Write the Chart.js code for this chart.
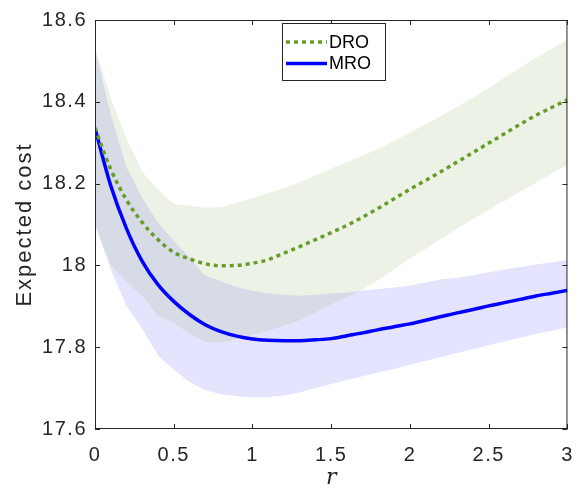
<!DOCTYPE html>
<html>
<head>
<meta charset="utf-8">
<script src="https://cdn.jsdelivr.net/npm/chart.js@4/dist/chart.umd.min.js"></script>
<style>
  html, body { margin: 0; padding: 0; background: #fff; }
  #wrap { width: 587px; height: 493px; position: relative; }
</style>
</head>
<body>
<div id="wrap"><canvas id="c" width="587" height="493"></canvas></div>
<script>
// ---- data ----
const rValues = [0,0.1,0.2,0.3,0.4,0.5,0.6,0.7,0.8,0.9,1.0,1.1,1.2,1.3,1.4,1.5,1.6,1.7,1.8,1.9,2.0,2.1,2.2,2.3,2.4,2.5,2.6,2.7,2.8,2.9,3.0];
const droMean  = [18.336,18.235,18.16,18.105,18.063,18.032,18.016,18.004,17.999,18.0,18.005,18.014,18.03,18.046,18.063,18.08,18.098,18.118,18.14,18.163,18.186,18.208,18.23,18.253,18.276,18.299,18.322,18.345,18.367,18.386,18.405];
const droUpper = [18.532,18.41,18.309,18.229,18.185,18.15,18.146,18.141,18.142,18.153,18.165,18.177,18.189,18.203,18.22,18.237,18.253,18.269,18.285,18.305,18.325,18.345,18.366,18.388,18.41,18.434,18.459,18.483,18.508,18.53,18.552];
const droLower = [18.10,18.0,17.96,17.925,17.877,17.86,17.833,17.813,17.812,17.82,17.83,17.84,17.853,17.866,17.885,17.905,17.922,17.941,17.965,17.99,18.017,18.04,18.066,18.09,18.113,18.136,18.158,18.18,18.202,18.224,18.246];
const mroMean  = [18.335,18.195,18.09,18.01,17.953,17.912,17.88,17.855,17.838,17.827,17.82,17.817,17.816,17.816,17.818,17.821,17.828,17.835,17.843,17.85,17.857,17.866,17.875,17.884,17.892,17.901,17.909,17.917,17.925,17.932,17.939];
const mroUpper = [18.53,18.37,18.24,18.165,18.105,18.06,18.02,17.975,17.962,17.947,17.938,17.932,17.928,17.926,17.928,17.931,17.934,17.938,17.942,17.946,17.951,17.958,17.966,17.97,17.976,17.983,17.99,17.996,18.002,18.008,18.013];
const mroLower = [18.10,17.99,17.9,17.845,17.78,17.745,17.715,17.695,17.685,17.68,17.677,17.678,17.682,17.689,17.7,17.71,17.72,17.729,17.738,17.747,17.757,17.766,17.776,17.786,17.795,17.805,17.814,17.823,17.832,17.84,17.849];
const xTickValues = [0,0.5,1,1.5,2,2.5,3];
const xTickLabels = ["0","0.5","1","1.5","2","2.5","3"];
const yTickValues = [17.6,17.8,18,18.2,18.4,18.6];
const yTickLabels = ["17.6","17.8","18","18.2","18.4","18.6"];
const seriesNames = ["DRO","MRO"];

const pts = arr => rValues.map((r, i) => ({ x: r, y: arr[i] }));

const GREEN = 'rgb(104,156,40)';
const BLUE = 'rgb(0,0,255)';
const AXIS = '#262626';
const FONT = '"Liberation Sans", Arial, Helvetica, sans-serif';

// slightly wider text spacing, per scale part
function wrapSpacing(s, labelSpacing, titleSpacing) {
  if (s._spacingWrapped) return;
  s._spacingWrapped = true;
  const dl = s.drawLabels.bind(s);
  const dt = s.drawTitle.bind(s);
  s.drawLabels = function (area) { const c = s.ctx; const old = c.letterSpacing; c.letterSpacing = labelSpacing; dl(area); c.letterSpacing = old || '0px'; };
  s.drawTitle = function (area) { const c = s.ctx; const old = c.letterSpacing; c.letterSpacing = titleSpacing; dt(area); c.letterSpacing = old || '0px'; };
}

const innerTicks = {
  id: 'innerTicks',
  afterDraw(chart) {
    const { ctx, chartArea: a, scales: { x, y } } = chart;
    ctx.save();
    ctx.letterSpacing = '0px';
    ctx.strokeStyle = AXIS;
    ctx.lineWidth = 1;
    ctx.beginPath();
    ctx.rect(a.left + 0.5, a.top + 0.5, a.right - a.left - 1, a.bottom - a.top - 1);
    ctx.stroke();
    const L = 5;
    ctx.beginPath();
    xTickValues.forEach(v => {
      const px = Math.round(x.getPixelForValue(v)) + 0.5;
      ctx.moveTo(px, a.bottom); ctx.lineTo(px, a.bottom - L);
      ctx.moveTo(px, a.top); ctx.lineTo(px, a.top + L);
    });
    yTickValues.forEach(v => {
      const py = Math.round(y.getPixelForValue(v)) + 0.5;
      ctx.moveTo(a.left, py); ctx.lineTo(a.left + L, py);
      ctx.moveTo(a.right, py); ctx.lineTo(a.right - L, py);
    });
    ctx.stroke();

    // legend box
    const bx = 282.5, by = 23.5, bw = 103, bh = 57;
    ctx.fillStyle = '#fff';
    ctx.fillRect(bx, by, bw, bh);
    ctx.strokeStyle = AXIS;
    ctx.strokeRect(bx, by, bw, bh);
    const rows = [
      { label: seriesNames[0], color: GREEN, dash: [4, 4], y: 42 },
      { label: seriesNames[1], color: BLUE, dash: [], y: 63.5 }
    ];
    rows.forEach(r => {
      ctx.beginPath();
      ctx.setLineDash(r.dash);
      ctx.lineCap = 'butt';
      ctx.strokeStyle = r.color;
      ctx.lineWidth = 3.5;
      ctx.moveTo(286, r.y); ctx.lineTo(327, r.y);
      ctx.stroke();
      ctx.setLineDash([]);
      ctx.fillStyle = '#000';
      ctx.font = '18px ' + FONT;
      ctx.textBaseline = 'middle';
      ctx.textAlign = 'left';
      ctx.fillText(r.label, 329, r.y + 1);
    });
    ctx.restore();
  }
};

new Chart(document.getElementById('c'), {
  type: 'line',
  data: {
    datasets: [
      { label: seriesNames[0], data: pts(droMean), borderColor: GREEN, borderWidth: 3.5, borderDash: [4, 4], pointRadius: 0, fill: false, cubicInterpolationMode: 'monotone' },
      { label: seriesNames[1], data: pts(mroMean), borderColor: BLUE, borderWidth: 3.5, pointRadius: 0, fill: false, cubicInterpolationMode: 'monotone' },
      { label: 'DRO upper', data: pts(droUpper), borderWidth: 0, borderColor: 'rgba(0,0,0,0)', pointRadius: 0, fill: '+1', backgroundColor: 'rgba(116,155,63,0.13)' },
      { label: 'DRO lower', data: pts(droLower), borderWidth: 0, borderColor: 'rgba(0,0,0,0)', pointRadius: 0, fill: false },
      { label: 'MRO upper', data: pts(mroUpper), borderWidth: 0, borderColor: 'rgba(0,0,0,0)', pointRadius: 0, fill: '+1', backgroundColor: 'rgba(0,0,255,0.105)' },
      { label: 'MRO lower', data: pts(mroLower), borderWidth: 0, borderColor: 'rgba(0,0,0,0)', pointRadius: 0, fill: false }
    ]
  },
  options: {
    responsive: false,
    animation: false,
    layout: { padding: { left: 0, right: 18, top: 12, bottom: 0 } },
    plugins: { legend: { display: false }, tooltip: { enabled: false } },
    scales: {
      x: {
        type: 'linear', min: 0, max: 3,
        afterFit: s => { s.height = 64; wrapSpacing(s, '1.5px', '0px'); },
        afterBuildTicks: s => { s.ticks = xTickValues.map(v => ({ value: v })); },
        ticks: { callback: (v) => xTickLabels[xTickValues.indexOf(v)], color: AXIS, font: { family: FONT, size: 20 }, padding: 14, maxRotation: 0 },
        grid: { display: false, drawTicks: false },
        border: { display: false },
        title: { display: true, text: 'r', color: AXIS, font: { family: '"DejaVu Serif", "Liberation Serif", serif', size: 22, style: 'italic' }, padding: { top: 0, bottom: 2 } }
      },
      y: {
        type: 'linear', min: 17.6, max: 18.6,
        afterFit: s => { s.width = 95; wrapSpacing(s, '1.5px', '2px'); },
        afterBuildTicks: s => { s.ticks = yTickValues.map(v => ({ value: v })); },
        ticks: { callback: (v) => yTickLabels[yTickValues.findIndex(t => Math.abs(t - v) < 1e-9)], color: AXIS, font: { family: FONT, size: 20 }, padding: 8 },
        grid: { display: false, drawTicks: false },
        border: { display: false },
        title: { display: true, text: 'Expected cost', color: AXIS, font: { family: FONT, size: 22 }, padding: { top: 12, bottom: 0 } }
      }
    }
  },
  plugins: [innerTicks]
});
</script>
</body>
</html>
